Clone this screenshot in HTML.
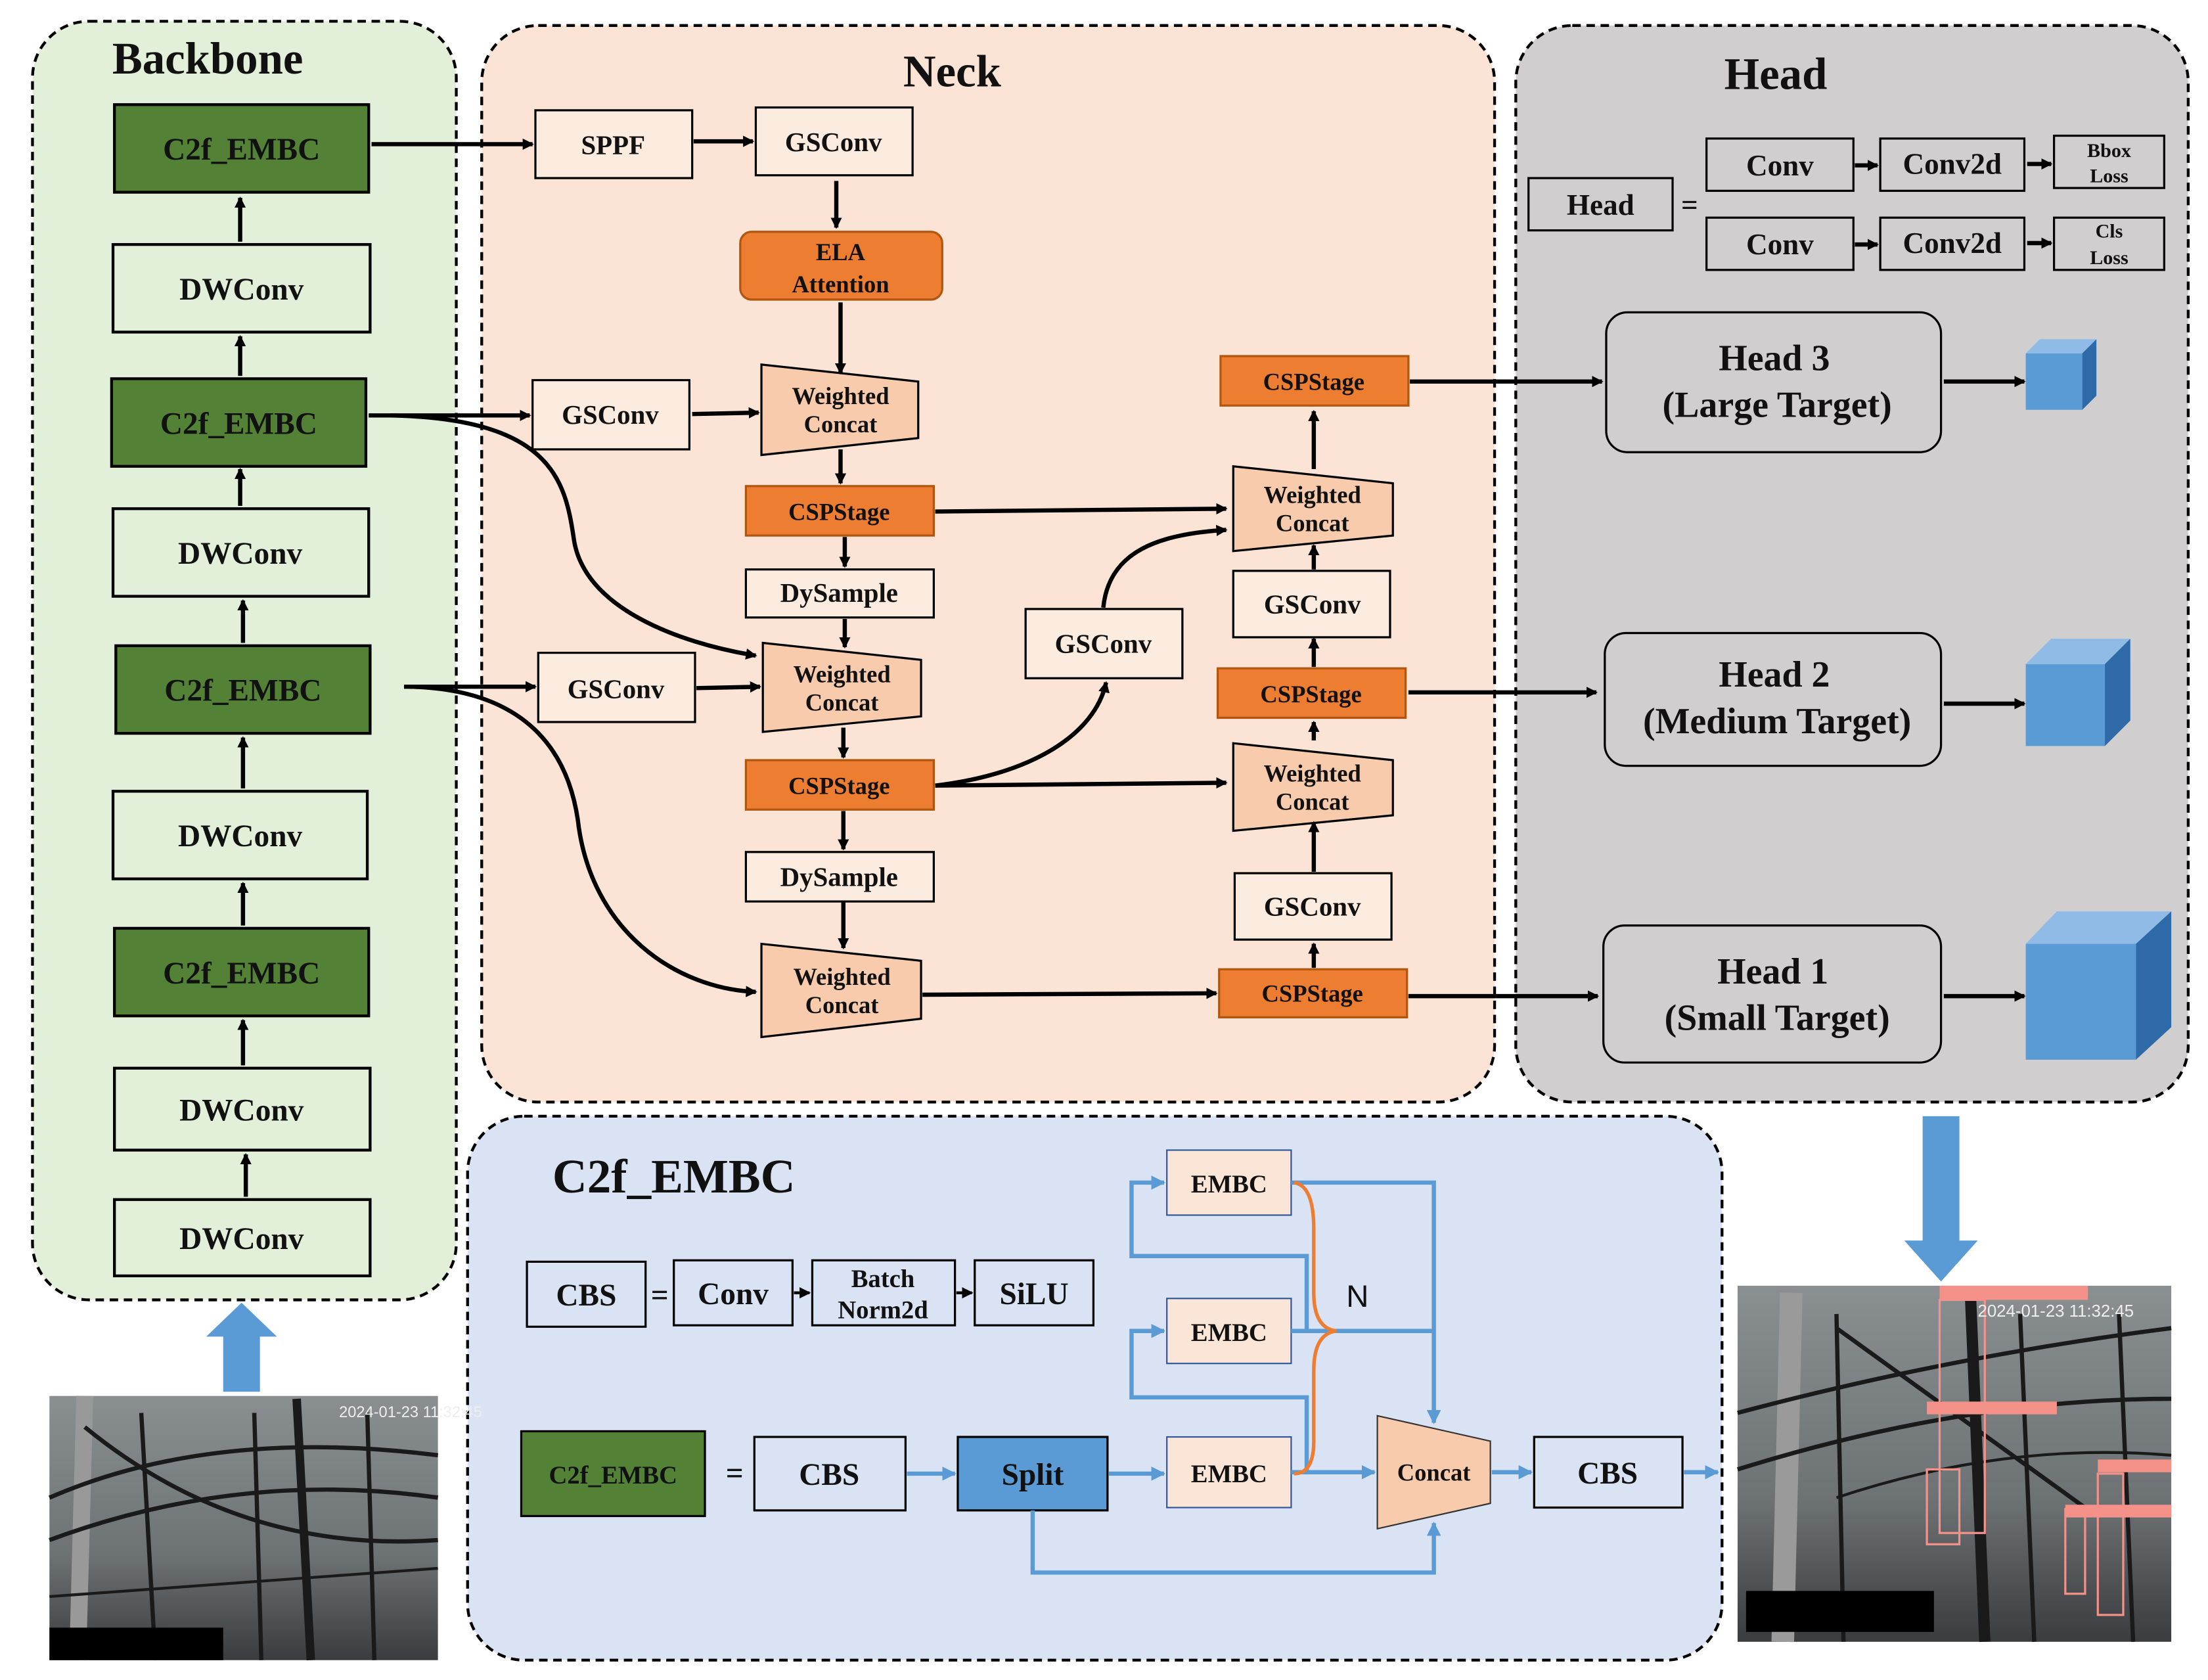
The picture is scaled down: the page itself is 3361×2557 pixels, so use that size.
<!DOCTYPE html>
<html><head><meta charset="utf-8"><style>
html,body{margin:0;padding:0;background:#fff}
svg{display:block}
text{font-family:"Liberation Serif",serif;font-weight:bold;fill:#111}
</style></head><body>
<svg width="3361" height="2557" viewBox="0 0 1563 1189" xmlns="http://www.w3.org/2000/svg">
<defs>
<marker id="a" markerWidth="8" markerHeight="8" refX="7" refY="4" orient="auto" markerUnits="userSpaceOnUse"><path d="M0,0 L8,4 L0,8 z" fill="#000"/></marker>
<marker id="b" markerWidth="10" markerHeight="10" refX="9" refY="5" orient="auto" markerUnits="userSpaceOnUse"><path d="M0,0 L10,5 L0,10 z" fill="#5b9bd5"/></marker>
<linearGradient id="sky" x1="0" y1="0" x2="0" y2="1"><stop offset="0" stop-color="#8a8f92"/><stop offset="0.6" stop-color="#6d7275"/><stop offset="1" stop-color="#3a3c3e"/></linearGradient>
</defs>
<!-- panels -->
<rect x="23" y="15" width="300" height="905" rx="40" fill="#e2efd9" stroke="#000" stroke-width="2" stroke-dasharray="6,4"/>
<rect x="341" y="18" width="717" height="762" rx="40" fill="#fbe4d5" stroke="#000" stroke-width="2" stroke-dasharray="6,4"/>
<rect x="1073" y="18" width="476" height="762" rx="40" fill="#d0cece" stroke="#000" stroke-width="2" stroke-dasharray="6,4"/>
<rect x="331" y="790" width="888" height="385" rx="40" fill="#dae3f3" stroke="#000" stroke-width="2" stroke-dasharray="6,4"/>
<text x="147" y="52" font-size="32" text-anchor="middle">Backbone</text>
<text x="674" y="61" font-size="32" text-anchor="middle">Neck</text>
<text x="1257" y="63" font-size="32" text-anchor="middle">Head</text>
<text x="477" y="844" font-size="34" text-anchor="middle">C2f_EMBC</text>
<!-- backbone -->
<g stroke="#000" stroke-width="2">
<rect x="81" y="74" width="180" height="62" fill="#538135"/>
<rect x="80" y="173" width="182" height="62" fill="#e2efd9"/>
<rect x="79" y="268" width="180" height="62" fill="#538135"/>
<rect x="80" y="360" width="181" height="62" fill="#e2efd9"/>
<rect x="82" y="457" width="180" height="62" fill="#538135"/>
<rect x="80" y="560" width="180" height="62" fill="#e2efd9"/>
<rect x="81" y="657" width="180" height="62" fill="#538135"/>
<rect x="81" y="756" width="181" height="58" fill="#e2efd9"/>
<rect x="81" y="849" width="181" height="54" fill="#e2efd9"/>
</g>
<g font-size="22" text-anchor="middle">
<text x="171" y="113">C2f_EMBC</text><text x="171" y="212">DWConv</text>
<text x="169" y="307">C2f_EMBC</text><text x="170" y="399">DWConv</text>
<text x="172" y="496">C2f_EMBC</text><text x="170" y="599">DWConv</text>
<text x="171" y="696">C2f_EMBC</text><text x="171" y="793">DWConv</text>
<text x="171" y="884">DWConv</text>
</g>
<g stroke="#000" stroke-width="3" marker-end="url(#a)">
<line x1="170" y1="171" x2="170" y2="140"/><line x1="170" y1="266" x2="170" y2="238"/>
<line x1="170" y1="358" x2="170" y2="332"/><line x1="172" y1="455" x2="172" y2="425"/>
<line x1="172" y1="558" x2="172" y2="522"/><line x1="172" y1="655" x2="172" y2="625"/>
<line x1="172" y1="754" x2="172" y2="722"/><line x1="174" y1="847" x2="174" y2="817"/>
</g>
<path d="M158,985 L158,946 L146,946 L171,922 L196,946 L184,946 L184,985 z" fill="#5b9bd5"/>
<!-- left photo -->
<rect x="35" y="988" width="275" height="187" fill="url(#sky)"/>
<g stroke="#1a1a1a" stroke-width="3" fill="none">
<line x1="60" y1="988" x2="55" y2="1175" stroke-width="12" stroke="#999"/>
<line x1="100" y1="1000" x2="110" y2="1175"/><line x1="180" y1="1000" x2="185" y2="1175"/>
<line x1="210" y1="990" x2="220" y2="1175" stroke-width="6"/><line x1="260" y1="1000" x2="265" y2="1175"/>
<path d="M35,1060 Q150,1010 310,1030"/><path d="M35,1090 Q170,1040 310,1060"/><path d="M60,1010 Q170,1100 310,1090"/>
<line x1="35" y1="1130" x2="310" y2="1110" stroke-width="2"/>
</g>
<rect x="35" y="1152" width="123" height="23" fill="#000"/>
<text x="240" y="1003" font-size="11" style="fill:#eee;font-family:'Liberation Sans';font-weight:normal">2024-01-23 11:32:45</text>
<!-- neck boxes -->
<g stroke="#000" stroke-width="1.5" fill="#fcebdf">
<rect x="379" y="78" width="111" height="48"/><rect x="535" y="76" width="111" height="48"/>
<rect x="377" y="269" width="111" height="49"/><rect x="381" y="462" width="111" height="49"/>
<rect x="528" y="403" width="133" height="34"/><rect x="528" y="603" width="133" height="35"/>
<rect x="726" y="431" width="111" height="49"/>
<rect x="873" y="404" width="111" height="47"/><rect x="874" y="618" width="111" height="47"/>
</g>
<g stroke="#000" stroke-width="1.5" fill="#f8cbad">
<polygon points="539,258 650,270 650,310 539,322"/>
<polygon points="540,455 652,467 652,507 540,518"/>
<polygon points="539,668 652,680 652,721 539,734"/>
<polygon points="873,330 986,342 986,379 873,390"/>
<polygon points="873,526 986,538 986,577 873,588"/>
</g>
<g stroke="#b0560f" stroke-width="1.5" fill="#ed7d31">
<rect x="524" y="164" width="143" height="48" rx="8"/>
<rect x="528" y="344" width="133" height="35"/><rect x="528" y="538" width="133" height="35"/>
<rect x="864" y="252" width="133" height="35"/><rect x="862" y="473" width="133" height="35"/>
<rect x="863" y="686" width="133" height="34"/>
</g>
<g font-size="19" text-anchor="middle">
<text x="434" y="109">SPPF</text><text x="590" y="107">GSConv</text>
<text x="432" y="300">GSConv</text><text x="436" y="494">GSConv</text>
<text x="594" y="426">DySample</text><text x="594" y="627">DySample</text>
<text x="781" y="462">GSConv</text><text x="929" y="434">GSConv</text><text x="929" y="648">GSConv</text>
</g>
<g font-size="17" text-anchor="middle">
<text x="595" y="184">ELA</text><text x="595" y="207">Attention</text>
<text x="595" y="286">Weighted</text><text x="595" y="306">Concat</text>
<text x="596" y="483">Weighted</text><text x="596" y="503">Concat</text>
<text x="596" y="697">Weighted</text><text x="596" y="717">Concat</text>
<text x="929" y="356">Weighted</text><text x="929" y="376">Concat</text>
<text x="929" y="553">Weighted</text><text x="929" y="573">Concat</text>
<text x="594" y="368">CSPStage</text><text x="594" y="562">CSPStage</text>
<text x="930" y="276">CSPStage</text><text x="928" y="497">CSPStage</text><text x="929" y="709">CSPStage</text>
</g>
<g stroke="#000" stroke-width="3" fill="none" marker-end="url(#a)">
<line x1="263" y1="102" x2="377" y2="102"/>
<line x1="491" y1="100" x2="533" y2="100"/>
<line x1="592" y1="128" x2="592" y2="161"/>
<line x1="595" y1="214" x2="595" y2="264"/>
<line x1="261" y1="294" x2="375" y2="294"/>
<line x1="490" y1="293" x2="537" y2="292"/>
<line x1="595" y1="318" x2="595" y2="342"/>
<line x1="598" y1="380" x2="598" y2="401"/>
<line x1="598" y1="438" x2="598" y2="458"/>
<path d="M276,294 C390,296 400,340 406,380 C412,430 480,455 535,464"/>
<line x1="286" y1="486" x2="379" y2="486"/>
<line x1="493" y1="487" x2="538" y2="486"/>
<line x1="597" y1="515" x2="597" y2="536"/>
<line x1="597" y1="574" x2="597" y2="601"/>
<line x1="597" y1="638" x2="597" y2="671"/>
<path d="M290,486 C380,488 403,540 409,580 C418,660 480,700 535,702"/>
<line x1="653" y1="704" x2="861" y2="703"/>
<line x1="662" y1="556" x2="868" y2="554"/>
<path d="M662,556 C730,548 775,520 783,483"/>
<path d="M781,430 C785,390 820,378 868,375"/>
<line x1="662" y1="362" x2="868" y2="360"/>
<line x1="930" y1="685" x2="930" y2="668"/>
<line x1="930" y1="617" x2="930" y2="582"/>
<line x1="930" y1="524" x2="930" y2="511"/>
<line x1="930" y1="472" x2="930" y2="452"/>
<line x1="930" y1="403" x2="930" y2="386"/>
<line x1="930" y1="332" x2="930" y2="291"/>
<line x1="998" y1="270" x2="1134" y2="270"/>
<line x1="997" y1="490" x2="1130" y2="490"/>
<line x1="997" y1="705" x2="1131" y2="705"/>
<line x1="1376" y1="270" x2="1433" y2="270"/>
<line x1="1376" y1="498" x2="1433" y2="498"/>
<line x1="1376" y1="705" x2="1433" y2="705"/>
</g>
<!-- head -->
<g stroke="#000" stroke-width="1.5" fill="#d0cece">
<rect x="1082" y="126" width="102" height="37"/>
<rect x="1208" y="98" width="104" height="37"/><rect x="1331" y="98" width="102" height="37"/><rect x="1454" y="96" width="78" height="37"/>
<rect x="1208" y="154" width="104" height="37"/><rect x="1331" y="154" width="102" height="37"/><rect x="1454" y="154" width="78" height="37"/>
<rect x="1137" y="221" width="237" height="99" rx="15"/>
<rect x="1136" y="448" width="238" height="94" rx="15"/>
<rect x="1135" y="655" width="239" height="97" rx="15"/>
</g>
<g font-size="21" text-anchor="middle">
<text x="1133" y="152">Head</text><text x="1196" y="152">=</text>
<text x="1260" y="124">Conv</text><text x="1382" y="123">Conv2d</text>
<text x="1260" y="180">Conv</text><text x="1382" y="179">Conv2d</text>
</g>
<g font-size="14" text-anchor="middle">
<text x="1493" y="111">Bbox</text><text x="1493" y="129">Loss</text>
<text x="1493" y="168">Cls</text><text x="1493" y="187">Loss</text>
</g>
<g stroke="#000" stroke-width="3" marker-end="url(#a)">
<line x1="1313" y1="117" x2="1329" y2="117"/><line x1="1435" y1="116" x2="1452" y2="116"/>
<line x1="1313" y1="173" x2="1329" y2="173"/><line x1="1435" y1="172" x2="1452" y2="172"/>
</g>
<g font-size="26" text-anchor="middle">
<text x="1256" y="262">Head 3</text><text x="1258" y="295">(Large Target)</text>
<text x="1256" y="486">Head 2</text><text x="1258" y="519">(Medium Target)</text>
<text x="1255" y="696">Head 1</text><text x="1258" y="729">(Small Target)</text>
</g>
<g>
<polygon points="1434,250 1474,250 1474,290 1434,290" fill="#5b9bd5"/>
<polygon points="1434,250 1444,240 1484,240 1474,250" fill="#8fbbe6"/>
<polygon points="1474,250 1484,240 1484,280 1474,290" fill="#2e6aa8"/>
<polygon points="1434,470 1490,470 1490,528 1434,528" fill="#5b9bd5"/>
<polygon points="1434,470 1452,452 1508,452 1490,470" fill="#8fbbe6"/>
<polygon points="1490,470 1508,452 1508,510 1490,528" fill="#2e6aa8"/>
<polygon points="1434,668 1512,668 1512,750 1434,750" fill="#5b9bd5"/>
<polygon points="1434,668 1456,645 1537,645 1512,668" fill="#8fbbe6"/>
<polygon points="1512,668 1537,645 1537,727 1512,750" fill="#2e6aa8"/>
</g>
<path d="M1361,790 L1387,790 L1387,878 L1400,878 L1374,907 L1348,878 L1361,878 z" fill="#5b9bd5"/>
<!-- right photo -->
<rect x="1230" y="910" width="307" height="252" fill="url(#sky)"/>
<g stroke="#1a1a1a" stroke-width="3" fill="none">
<line x1="1268" y1="915" x2="1262" y2="1162" stroke-width="16" stroke="#9a9a9a"/>
<line x1="1300" y1="930" x2="1305" y2="1162"/><line x1="1395" y1="920" x2="1405" y2="1162" stroke-width="8"/>
<line x1="1430" y1="930" x2="1440" y2="1162"/><line x1="1500" y1="930" x2="1510" y2="1162"/>
<path d="M1300,940 L1480,1070"/><path d="M1230,1000 Q1380,960 1537,940"/><path d="M1230,1040 Q1390,990 1537,990"/>
<path d="M1300,1060 Q1420,1020 1537,1030" stroke-width="2"/>
</g>
<g stroke="#f4928a" stroke-width="1.5" fill="none">
<rect x="1373" y="920" width="32" height="165"/><rect x="1364" y="1040" width="23" height="53"/>
<rect x="1485" y="1043" width="18" height="100"/><rect x="1462" y="1068" width="14" height="60"/>
</g>
<g fill="#f4928a"><rect x="1373" y="910" width="105" height="10"/><rect x="1364" y="992" width="92" height="9"/><rect x="1485" y="1033" width="52" height="9"/><rect x="1462" y="1065" width="75" height="9"/></g>
<text x="1400" y="932" font-size="12" style="fill:#eee;font-family:'Liberation Sans';font-weight:normal">2024-01-23 11:32:45</text>
<rect x="1236" y="1126" width="133" height="29" fill="#000"/>
<!-- C2f_EMBC panel -->
<g stroke="#000" stroke-width="1.5" fill="#dae3f3">
<rect x="373" y="893" width="84" height="46"/><rect x="477" y="892" width="84" height="46"/>
<rect x="575" y="892" width="101" height="46"/><rect x="690" y="892" width="84" height="46"/>
<rect x="534" y="1017" width="107" height="52"/><rect x="1086" y="1017" width="105" height="50"/>
</g>
<rect x="369" y="1013" width="130" height="60" fill="#538135" stroke="#000" stroke-width="1.5"/>
<rect x="678" y="1017" width="106" height="52" fill="#5b9bd5" stroke="#000" stroke-width="1.5"/>
<g stroke="#2f5597" stroke-width="1" fill="#fbe5d6">
<rect x="826" y="814" width="88" height="46"/><rect x="826" y="919" width="88" height="46"/><rect x="826" y="1017" width="88" height="50"/>
</g>
<polygon points="975,1002 1055,1020 1055,1064 975,1082" fill="#f8cbad" stroke="#333" stroke-width="1"/>
<g font-size="22" text-anchor="middle">
<text x="415" y="924">CBS</text><text x="467" y="924">=</text><text x="519" y="923">Conv</text><text x="732" y="923">SiLU</text>
<text x="520" y="1050">=</text><text x="587" y="1051">CBS</text><text x="731" y="1051">Split</text><text x="1138" y="1050">CBS</text>
</g>
<g font-size="18" text-anchor="middle">
<text x="625" y="911">Batch</text><text x="625" y="933">Norm2d</text>
<text x="434" y="1050">C2f_EMBC</text>
<text x="870" y="844">EMBC</text><text x="870" y="949">EMBC</text><text x="870" y="1049">EMBC</text>
<text x="1015" y="1048" font-size="17">Concat</text>
</g>
<text x="953" y="925" font-size="22" style="font-family:'Liberation Sans';font-weight:normal">N</text>
<g stroke="#000" stroke-width="2" marker-end="url(#a)">
<line x1="562" y1="915" x2="573" y2="915"/><line x1="677" y1="915" x2="688" y2="915"/>
</g>
<g stroke="#5b9bd5" stroke-width="3" fill="none">
<path d="M914,1042 L925,1042 L925,989 L801,989 L801,942 L824,942" marker-end="url(#b)"/>
<path d="M914,942 L925,942 L925,889 L801,889 L801,837 L824,837" marker-end="url(#b)"/>
<path d="M914,837 L1015,837 L1015,1007" marker-end="url(#b)"/>
<path d="M914,942 L1015,942"/>
<line x1="642" y1="1043" x2="676" y2="1043" marker-end="url(#b)"/>
<line x1="785" y1="1043" x2="824" y2="1043" marker-end="url(#b)"/>
<line x1="916" y1="1042" x2="973" y2="1042" marker-end="url(#b)"/>
<line x1="1056" y1="1042" x2="1084" y2="1042" marker-end="url(#b)"/>
<line x1="1192" y1="1042" x2="1216" y2="1042" marker-end="url(#b)"/>
<path d="M731,1069 L731,1113 L1015,1113 L1015,1078" marker-end="url(#b)"/>
</g>
<path d="M916,837 Q930,839 930,870 L930,915 Q930,940 946,942 Q930,944 930,970 L930,1020 Q930,1043 916,1043" stroke="#ed7d31" stroke-width="2.5" fill="none"/>
</svg>
</body></html>
